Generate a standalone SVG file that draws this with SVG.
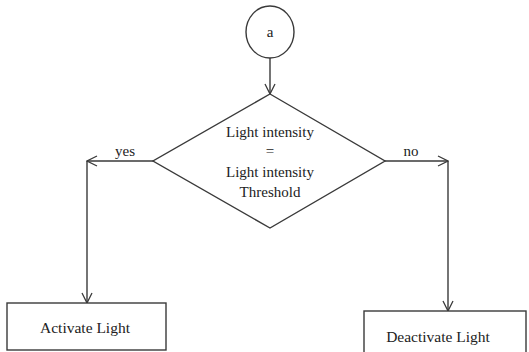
<svg xmlns="http://www.w3.org/2000/svg" width="529" height="352" viewBox="0 0 529 352">
<defs>
<style>
.s{fill:none;stroke:#3a3a3a;stroke-width:1.4}
.n{fill:#fff;stroke:#3a3a3a;stroke-width:1.4}
.t{font-family:'Liberation Serif','DejaVu Serif',serif;fill:#222;text-anchor:middle}
</style>
<marker id="ah" viewBox="0 0 12 12" refX="11" refY="6" markerWidth="12" markerHeight="12" markerUnits="userSpaceOnUse" orient="auto">
<path d="M1,1 L11,6 L1,11" fill="none" stroke="#3a3a3a" stroke-width="1.3"/>
</marker>
</defs>
<rect width="529" height="352" fill="#fff"/>
<g id="connectors">
<line class="s" x1="270" y1="58" x2="270" y2="94" marker-end="url(#ah)"/>
<polyline class="s" points="153,161 87,161" marker-end="url(#ah)"/>
<line class="s" x1="87" y1="161" x2="87" y2="303" marker-end="url(#ah)"/>
<polyline class="s" points="385,161 448,161" marker-end="url(#ah)"/>
<line class="s" x1="448" y1="161" x2="448" y2="311" marker-end="url(#ah)"/>
<text class="t" x="125" y="156" font-size="15" font-family="Liberation Serif, serif">yes</text>
<text class="t" x="411" y="156" font-size="15" font-family="Liberation Serif, serif">no</text>
</g>
<g id="node-a">
<ellipse class="n" cx="270" cy="32" rx="24" ry="26"/>
<text class="t" x="270" y="37" font-size="15" font-family="Liberation Serif, serif">a</text>
</g>
<g id="node-decision">
<polygon class="n" points="270,94 385,161 270,228 153,161"/>
<text class="t" x="270" y="137" font-size="15" font-family="Liberation Serif, serif">Light intensity</text>
<text class="t" x="270" y="156" font-size="15" font-family="Liberation Serif, serif">=</text>
<text class="t" x="270" y="177" font-size="15" font-family="Liberation Serif, serif">Light intensity</text>
<text class="t" x="270" y="197" font-size="15" font-family="Liberation Serif, serif">Threshold</text>
</g>
<g id="node-activate">
<rect class="n" x="7" y="303" width="159" height="47"/>
<text class="t" x="85" y="333" font-size="15.5" font-family="Liberation Serif, serif">Activate Light</text>
</g>
<g id="node-deactivate">
<rect class="n" x="364" y="311" width="162" height="50"/>
<text class="t" x="438" y="342" font-size="15.5" font-family="Liberation Serif, serif">Deactivate Light</text>
</g>
</svg>
